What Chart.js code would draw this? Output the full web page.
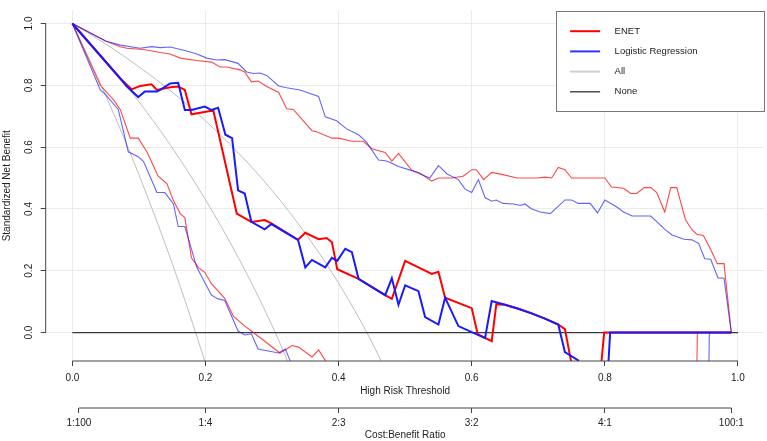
<!DOCTYPE html>
<html>
<head>
<meta charset="utf-8">
<script src="https://cdn.jsdelivr.net/npm/chart.js@4.4.1/dist/chart.umd.min.js"></script>
<style>
  html, body { margin: 0; padding: 0; background: #fff; }
  canvas { display: block; }
</style>
</head>
<body>
<canvas id="dca" width="767" height="441"></canvas>
<script>
/* ── data (threshold, standardized net benefit) ── */
var X_TICKS   = [0, 0.2, 0.4, 0.6, 0.8, 1.0];
var Y_TICKS   = [0, 0.2, 0.4, 0.6, 0.8, 1.0];
var CB_TICKS  = [0.0099, 0.2, 0.4, 0.6, 0.8, 0.9901];
var CB_LABELS = ['1:100', '1:4', '2:3', '3:2', '4:1', '100:1'];

// upper pair (thin)
var enetTopT = [0, 0.05, 0.072, 0.082, 0.107, 0.132, 0.147, 0.162, 0.187, 0.209, 0.222, 0.232, 0.252, 0.259, 0.269, 0.279, 0.292, 0.310, 0.322, 0.332, 0.360, 0.367, 0.390, 0.400, 0.420, 0.437, 0.450, 0.470, 0.480, 0.490, 0.510, 0.522, 0.540, 0.550, 0.570, 0.587, 0.600, 0.607, 0.618, 0.630, 0.647, 0.668, 0.698, 0.710, 0.720, 0.730, 0.740, 0.750, 0.800, 0.810, 0.828, 0.839, 0.848, 0.859, 0.869, 0.878, 0.890, 0.899, 0.908, 0.921, 0.931, 0.938, 0.948, 0.959, 0.969, 0.979, 0.990];
var enetTopV = [1, 0.943, 0.925, 0.920, 0.916, 0.906, 0.901, 0.888, 0.880, 0.875, 0.859, 0.859, 0.850, 0.843, 0.811, 0.814, 0.796, 0.777, 0.724, 0.722, 0.653, 0.650, 0.629, 0.629, 0.619, 0.619, 0.595, 0.583, 0.555, 0.580, 0.525, 0.516, 0.490, 0.500, 0.500, 0.506, 0.527, 0.527, 0.495, 0.518, 0.511, 0.500, 0.500, 0.503, 0.500, 0.534, 0.527, 0.500, 0.500, 0.471, 0.467, 0.450, 0.450, 0.469, 0.469, 0.453, 0.390, 0.469, 0.469, 0.366, 0.332, 0.318, 0.314, 0.269, 0.223, 0.223, 0];
var lrTopT   = [0, 0.05, 0.072, 0.102, 0.119, 0.132, 0.147, 0.172, 0.187, 0.202, 0.217, 0.229, 0.249, 0.262, 0.272, 0.282, 0.292, 0.310, 0.322, 0.342, 0.370, 0.380, 0.397, 0.412, 0.430, 0.442, 0.460, 0.470, 0.477, 0.490, 0.510, 0.537, 0.550, 0.563, 0.580, 0.590, 0.600, 0.610, 0.620, 0.630, 0.637, 0.647, 0.663, 0.673, 0.680, 0.690, 0.703, 0.718, 0.730, 0.740, 0.750, 0.760, 0.778, 0.789, 0.800, 0.818, 0.828, 0.841, 0.869, 0.891, 0.901, 0.919, 0.931, 0.941, 0.950, 0.959, 0.970, 0.979, 0.990];
var lrTopV   = [1, 0.943, 0.930, 0.920, 0.925, 0.922, 0.924, 0.911, 0.901, 0.888, 0.882, 0.883, 0.871, 0.843, 0.838, 0.840, 0.832, 0.798, 0.792, 0.785, 0.764, 0.698, 0.685, 0.659, 0.640, 0.616, 0.558, 0.556, 0.551, 0.537, 0.524, 0.500, 0.540, 0.513, 0.495, 0.464, 0.453, 0.495, 0.437, 0.425, 0.429, 0.418, 0.416, 0.411, 0.416, 0.400, 0.390, 0.385, 0.408, 0.429, 0.429, 0.418, 0.418, 0.387, 0.429, 0.406, 0.390, 0.377, 0.377, 0.332, 0.316, 0.302, 0.300, 0.288, 0.239, 0.237, 0.177, 0.176, 0];

// middle pair (thick)
var enetMidT = [0, 0.072, 0.089, 0.102, 0.119, 0.127, 0.147, 0.159, 0.169, 0.179, 0.207, 0.212, 0.247, 0.269, 0.289, 0.299, 0.339, 0.350, 0.370, 0.382, 0.390, 0.398, 0.430, 0.470, 0.480, 0.500, 0.540, 0.550, 0.560, 0.600, 0.609, 0.630, 0.637, 0.650, 0.670, 0.690, 0.710, 0.730, 0.740, 0.749, 0.768, 0.786, 0.799, 0.990];
var enetMidV = [1, 0.822, 0.787, 0.798, 0.803, 0.785, 0.794, 0.796, 0.785, 0.706, 0.717, 0.717, 0.385, 0.358, 0.364, 0.353, 0.300, 0.323, 0.302, 0.306, 0.292, 0.205, 0.174, 0.121, 0.109, 0.232, 0.190, 0.197, 0.113, 0.079, -0.005, -0.028, 0.092, 0.090, 0.077, 0.062, 0.045, 0.026, 0.011, -0.090, -0.300, -0.300, 0, 0];
var lrMidT   = [0, 0.072, 0.082, 0.099, 0.109, 0.127, 0.132, 0.147, 0.159, 0.169, 0.179, 0.199, 0.209, 0.219, 0.230, 0.240, 0.249, 0.259, 0.269, 0.289, 0.299, 0.339, 0.350, 0.360, 0.380, 0.390, 0.398, 0.410, 0.420, 0.430, 0.470, 0.480, 0.490, 0.500, 0.520, 0.530, 0.550, 0.560, 0.580, 0.620, 0.630, 0.650, 0.670, 0.690, 0.710, 0.730, 0.740, 0.760, 0.780, 0.800, 0.808, 0.990];
var lrMidV   = [1, 0.822, 0.796, 0.762, 0.780, 0.780, 0.785, 0.806, 0.808, 0.720, 0.720, 0.731, 0.720, 0.727, 0.640, 0.629, 0.460, 0.450, 0.358, 0.334, 0.351, 0.300, 0.211, 0.235, 0.211, 0.242, 0.232, 0.271, 0.260, 0.174, 0.121, 0.176, 0.090, 0.153, 0.134, 0.050, 0.026, 0.113, 0.021, -0.018, 0.102, 0.090, 0.077, 0.062, 0.045, 0.026, -0.063, -0.090, -0.300, -0.300, 0, 0];

// lower pair (thin)
var enetLowT = [0, 0.042, 0.062, 0.072, 0.087, 0.099, 0.112, 0.129, 0.142, 0.152, 0.162, 0.169, 0.179, 0.189, 0.199, 0.209, 0.229, 0.242, 0.259, 0.272, 0.312, 0.322, 0.330, 0.340, 0.360, 0.370, 0.380, 0.442, 0.937, 0.939, 0.990];
var enetLowV = [1, 0.800, 0.753, 0.722, 0.629, 0.629, 0.585, 0.506, 0.482, 0.427, 0.385, 0.372, 0.242, 0.211, 0.195, 0.158, 0.111, 0.053, 0.021, 0, -0.066, -0.053, -0.042, -0.047, -0.079, -0.056, -0.090, -0.300, -0.300, 0, 0];
var lrLowT   = [0, 0.042, 0.049, 0.069, 0.084, 0.099, 0.107, 0.122, 0.127, 0.139, 0.152, 0.159, 0.169, 0.187, 0.209, 0.219, 0.229, 0.249, 0.259, 0.269, 0.279, 0.310, 0.320, 0.327, 0.367, 0.955, 0.957, 0.990];
var lrLowV   = [1, 0.785, 0.772, 0.722, 0.585, 0.569, 0.553, 0.479, 0.453, 0.453, 0.416, 0.343, 0.343, 0.211, 0.121, 0.109, 0.104, 0.005, -0.008, -0.004, -0.053, -0.066, -0.053, -0.090, -0.300, -0.300, 0, 0];

// treat-all references (one per cohort) and treat-none
var all1T = [0, 0.025, 0.05, 0.075, 0.1, 0.125, 0.15, 0.175, 0.2, 0.225];
var all1V = [1, 0.887, 0.768, 0.643, 0.511, 0.371, 0.224, 0.067, -0.100, -0.277];
var all2T = [0, 0.05, 0.1, 0.15, 0.2, 0.25, 0.3, 0.35];
var all2V = [1, 0.880, 0.747, 0.598, 0.430, 0.240, 0.023, -0.228];
var all3T = [0, 0.05, 0.1, 0.15, 0.2, 0.25, 0.3, 0.35, 0.4, 0.45, 0.5];
var all3V = [1, 0.934, 0.860, 0.778, 0.685, 0.580, 0.460, 0.321, 0.160, -0.031, -0.260];
var noneT = [0, 1];
var noneV = [0, 0];

var LEGEND_LABELS = ['ENET', 'Logistic Regression', 'All', 'None'];
var LEGEND_COLORS = ['#ff0000', '#3333ff', '#cfcfcf', '#333333'];

/* ── helpers ── */
var FONT = 'Liberation Sans, Arial, Helvetica, sans-serif';
var RED = '#ff0000', BLUE = '#1a1aff';
var RED_THIN = 'rgba(255,0,0,0.72)', BLUE_THIN = 'rgba(26,26,255,0.68)';
var GRAY = '#bebebe', AXIS = '#444444', GRID = '#ebebeb';

function pts(T, V) { return T.map(function(t, i) { return { x: t, y: V[i] }; }); }
function setTicks(vals) { return function(s) { s.ticks = vals.map(function(v) { return { value: v }; }); }; }

function line(data, color, width, order, smooth) {
  var ds = { data: data, borderColor: color, borderWidth: width, pointRadius: 0,
             fill: false, tension: 0, order: order };
  if (smooth) ds.cubicInterpolationMode = 'monotone';
  return ds;
}

// R-style axis lines: only from first to last tick
var rAxes = {
  id: 'rAxes',
  afterDraw: function(chart) {
    var ctx = chart.ctx, a = chart.chartArea;
    var sx = chart.scales.x, sy = chart.scales.y, sc = chart.scales.cb;
    ctx.save();
    ctx.strokeStyle = AXIS; ctx.lineWidth = 1;
    ctx.beginPath();
    ctx.moveTo(a.left, sy.getPixelForValue(Y_TICKS[0]));
    ctx.lineTo(a.left, sy.getPixelForValue(Y_TICKS[Y_TICKS.length - 1]));
    ctx.moveTo(sx.getPixelForValue(X_TICKS[0]), a.bottom);
    ctx.lineTo(sx.getPixelForValue(X_TICKS[X_TICKS.length - 1]), a.bottom);
    ctx.moveTo(sc.getPixelForValue(CB_TICKS[0]), sc.top);
    ctx.lineTo(sc.getPixelForValue(CB_TICKS[CB_TICKS.length - 1]), sc.top);
    ctx.stroke();
    ctx.restore();
  }
};

// legend box inside the plot, top right
var legendBox = {
  id: 'legendBox',
  afterDraw: function(chart) {
    var ctx = chart.ctx, a = chart.chartArea;
    var w = 209, h = 101, x = a.right - w, y = a.top;
    ctx.save();
    ctx.fillStyle = '#fff';
    ctx.fillRect(x, y, w, h);
    ctx.strokeStyle = '#777'; ctx.lineWidth = 1;
    ctx.strokeRect(Math.round(x) + 0.5, Math.round(y) + 0.5, w - 1, h - 1);
    ctx.font = '9.5px ' + FONT;
    ctx.textBaseline = 'middle';
    ctx.fillStyle = '#222';
    LEGEND_LABELS.forEach(function(lab, i) {
      var ry = y + 20.7 + i * 20.2;
      ctx.strokeStyle = LEGEND_COLORS[i];
      ctx.lineWidth = i === 3 ? 1.3 : 2;
      ctx.beginPath(); ctx.moveTo(x + 14.5, ry); ctx.lineTo(x + 44.5, ry); ctx.stroke();
      ctx.fillText(lab, x + 59, ry);
    });
    ctx.restore();
  }
};

var tickFont = { family: FONT, size: 10 };

new Chart(document.getElementById('dca').getContext('2d'), {
  type: 'line',
  data: {
    datasets: [
      line(pts(all1T, all1V), GRAY, 1, 90, true),
      line(pts(all2T, all2V), GRAY, 1, 89, true),
      line(pts(all3T, all3V), GRAY, 1, 88, true),
      line(pts(noneT, noneV), '#3a3a3a', 1.2, 80),
      line(pts(enetTopT, enetTopV), RED_THIN, 1.1, 70),
      line(pts(lrTopT, lrTopV), BLUE_THIN, 1.1, 69),
      line(pts(enetLowT, enetLowV), RED_THIN, 1.1, 68),
      line(pts(lrLowT, lrLowV), BLUE_THIN, 1.1, 67),
      line(pts(enetMidT, enetMidV), RED, 2, 60),
      line(pts(lrMidT, lrMidV), BLUE, 2, 59)
    ]
  },
  options: {
    responsive: false, animation: false,
    layout: { padding: { top: 2, right: 2.4, left: 0, bottom: 0 } },
    plugins: { legend: { display: false }, tooltip: { enabled: false } },
    scales: {
      x: {
        type: 'linear', position: 'bottom', weight: 0, min: -0.04, max: 1.04,
        afterBuildTicks: setTicks(X_TICKS),
        afterFit: function(s) { s.height = 47; },
        border: { display: false },
        grid: { color: GRID, lineWidth: 1, drawTicks: true, tickLength: 5, tickColor: AXIS, tickWidth: 1 },
        ticks: { font: tickFont, color: '#222', padding: 6, maxRotation: 0, autoSkip: false,
                 callback: function(v) { return v.toFixed(1); } },
        title: { display: true, text: 'High Risk Threshold', font: tickFont, color: '#222',
                 padding: { top: 0, bottom: 11 } }
      },
      cb: {
        type: 'linear', position: 'bottom', weight: 1, min: -0.04, max: 1.04,
        afterBuildTicks: setTicks(CB_TICKS),
        afterFit: function(s) { s.height = 33; },
        border: { display: false },
        grid: { drawOnChartArea: false, drawTicks: true, tickLength: 5, tickColor: AXIS, tickWidth: 1 },
        ticks: { font: tickFont, color: '#222', padding: 4, maxRotation: 0, autoSkip: false,
                 callback: function(v, i) { return CB_LABELS[i]; } },
        title: { display: true, text: 'Cost:Benefit Ratio', font: tickFont, color: '#222',
                 padding: { top: 0, bottom: 0 } }
      },
      y: {
        type: 'linear', position: 'left', min: -0.092, max: 1.042,
        afterBuildTicks: setTicks(Y_TICKS),
        afterFit: function(s) { s.width = 45.7; },
        border: { display: false },
        grid: { color: GRID, lineWidth: 1, drawTicks: true, tickLength: 5, tickColor: AXIS, tickWidth: 1 },
        ticks: { font: tickFont, color: '#222', padding: 4.5, minRotation: 90, maxRotation: 90,
                 crossAlign: 'center', autoSkip: false,
                 callback: function(v) { return v.toFixed(1); } },
        title: { display: true, text: 'Standardized Net Benefit', font: tickFont, color: '#222',
                 padding: { top: 1, bottom: 0 } }
      }
    }
  },
  plugins: [rAxes, legendBox]
});
</script>
</body>
</html>
